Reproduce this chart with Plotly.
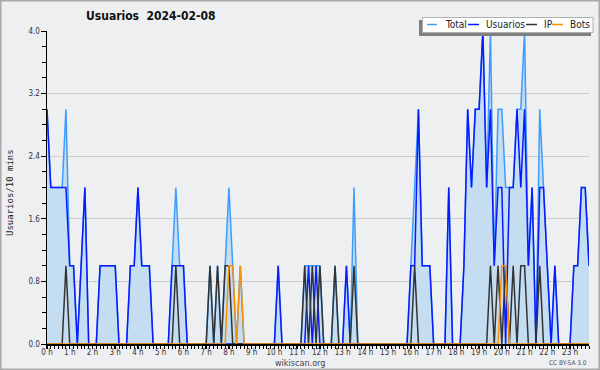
import plotly.graph_objects as go

# 10-minute slots, 0h00 .. 23h50
slot_hours = [i / 6 for i in range(144)]
hour_ticks = list(range(24))
hour_labels = [f"{h} h" for h in hour_ticks]

usuarios = [3, 2, 2, 2, 2, 2, 1, 1, 0, 1, 2, 0, 0, 0, 1, 1, 1, 1, 1, 0,
            0, 0, 1, 1, 2, 1, 1, 1, 0, 0, 0, 0, 0, 1, 1, 1, 1, 0, 0, 0,
            0, 0, 0, 0, 0, 0, 0, 0, 0, 0, 0, 0, 0, 0, 0, 0, 0, 0, 0, 0,
            0, 1, 0, 0, 0, 0, 0, 0, 0, 1, 0, 1, 0, 0, 0, 0, 0, 0, 0, 1,
            0, 0, 0, 0, 0, 0, 0, 0, 0, 0, 0, 0, 0, 0, 0, 0, 1, 1, 3, 1,
            1, 1, 0, 0, 0, 0, 2, 0, 0, 0, 1, 3, 2, 3, 3, 4, 2, 3, 1, 2,
            2, 0, 2, 2, 3, 2, 3, 1, 2, 0, 2, 2, 1, 0, 1, 0, 0, 0, 0, 1,
            1, 2, 2, 1]
ip = [0, 0, 0, 0, 0, 1, 0, 0, 0, 0, 0, 0, 0, 0, 0, 0, 0, 0, 0, 0,
      0, 0, 0, 0, 0, 0, 0, 0, 0, 0, 0, 0, 0, 0, 1, 0, 0, 0, 0, 0,
      0, 0, 0, 1, 0, 1, 0, 1, 1, 0, 0, 0, 0, 0, 0, 0, 0, 0, 0, 0,
      0, 0, 0, 0, 0, 0, 0, 0, 1, 0, 1, 0, 1, 0, 0, 0, 1, 0, 0, 0,
      0, 1, 0, 0, 0, 0, 0, 0, 0, 0, 0, 0, 0, 0, 0, 0, 0, 1, 0, 0,
      0, 0, 0, 0, 0, 0, 0, 0, 0, 0, 0, 0, 0, 0, 0, 0, 0, 1, 0, 1,
      0, 1, 0, 1, 0, 1, 1, 0, 0, 0, 1, 0, 0, 0, 0, 0, 0, 0, 0, 0,
      0, 0, 0, 0]
bots = [0] * 144
for _i in (48, 49, 51, 120, 121):
    bots[_i] = 1
total = [3, 2, 2, 2, 2, 3, 1, 1, 0, 1, 2, 0, 0, 0, 1, 1, 1, 1, 1, 0,
         0, 0, 1, 1, 2, 1, 1, 1, 0, 0, 0, 0, 0, 1, 2, 1, 1, 0, 0, 0,
         0, 0, 0, 1, 0, 1, 0, 1, 2, 1, 0, 1, 0, 0, 0, 0, 0, 0, 0, 0,
         0, 1, 0, 0, 0, 0, 0, 0, 1, 1, 1, 1, 1, 0, 0, 0, 1, 0, 0, 1,
         0, 2, 0, 0, 0, 0, 0, 0, 0, 0, 0, 0, 0, 0, 0, 0, 1, 2, 3, 1,
         1, 1, 0, 0, 0, 0, 2, 0, 0, 0, 1, 3, 2, 3, 3, 4, 2, 4, 1, 3,
         3, 2, 2, 2, 3, 3, 4, 1, 2, 0, 3, 2, 1, 0, 1, 0, 0, 0, 0, 1,
         1, 2, 2, 1]

BG = "#eeeff1"
FONT = "DejaVu Sans Condensed, DejaVu Sans"

fig = go.Figure()
fig.add_trace(go.Scatter(x=slot_hours, y=total, mode="lines", name="Total",
                         line=dict(color="#3d9dff", width=1.5),
                         fill="tozeroy", fillcolor="#c5ddf1"))
fig.add_trace(go.Scatter(x=slot_hours, y=usuarios, mode="lines", name="Usuarios",
                         line=dict(color="#0a1aff", width=1.5)))
fig.add_trace(go.Scatter(x=slot_hours, y=ip, mode="lines", name="IP",
                         line=dict(color="#333333", width=1.5)))
fig.add_trace(go.Scatter(x=slot_hours, y=bots, mode="lines", name="Bots",
                         line=dict(color="#ff9000", width=1.5)))

L, R, T, B = 47, 11, 31, 26
W, H = 600, 370
pw, ph = W - L - R, H - T - B


def px(xp):
    return (xp - L) / pw


def py(yp):
    return (H - B - yp) / ph


shapes = []
# outer frame
shapes.append(dict(type="rect", xref="paper", yref="paper",
                   x0=px(0.5), x1=px(599.5), y0=py(0.5), y1=py(369.5),
                   line=dict(color="#aaaaaa", width=2), layer="below"))
# legend shadow + box
shapes.append(dict(type="rect", xref="paper", yref="paper",
                   x0=px(419), x1=px(591), y0=py(36), y1=py(20),
                   fillcolor="#808080", line=dict(width=0), layer="above"))
shapes.append(dict(type="rect", xref="paper", yref="paper",
                   x0=px(422.5), x1=px(593), y0=py(32.5), y1=py(17.5),
                   fillcolor="white", line=dict(color="#b0b0b0", width=1), layer="above"))
leg = [("Total", "#3d9dff", 427, 437, 442.5),
       ("Usuarios", "#0a1aff", 468, 479, 483.5),
       ("IP", "#333333", 526, 537, 541.5),
       ("Bots", "#ff9000", 552, 563, 568)]
annotations = []
for name, col, a, b, tx in leg:
    shapes.append(dict(type="line", xref="paper", yref="paper",
                       x0=px(a), x1=px(b), y0=py(24.5), y1=py(24.5),
                       line=dict(color=col, width=1.5), layer="above"))
    annotations.append(dict(text=name, xref="paper", yref="paper",
                            x=px(tx), y=py(25), xanchor="left", yanchor="middle",
                            showarrow=False, font=dict(family=FONT, size=10, color="#222222")))

annotations.append(dict(text="<b>Usuarios  2024-02-08</b>", xref="paper", yref="paper",
                        x=px(151), y=py(16), xanchor="center", yanchor="middle",
                        showarrow=False, font=dict(family=FONT, size=12, color="#111111")))
annotations.append(dict(text="Usuarios/10 mins", xref="paper", yref="paper",
                        x=px(10), y=py(193), xanchor="center", yanchor="middle", textangle=-90,
                        showarrow=False, font=dict(family="DejaVu Sans Mono", size=9, color="#222222")))
annotations.append(dict(text="wikiscan.org", xref="paper", yref="paper",
                        x=px(300), y=py(362.5), xanchor="center", yanchor="middle",
                        showarrow=False, font=dict(family=FONT, size=9, color="#444444")))
annotations.append(dict(text="CC BY-SA 3.0", xref="paper", yref="paper",
                        x=px(589), y=py(362.5), xanchor="right", yanchor="middle",
                        showarrow=False, font=dict(family=FONT, size=6.5, color="#555555")))

fig.update_layout(
    width=W, height=H, margin=dict(l=L, r=R, t=T, b=B, autoexpand=False),
    paper_bgcolor=BG, plot_bgcolor=BG, showlegend=False,
    shapes=shapes, annotations=annotations,
    xaxis=dict(range=[0, 143 / 6], tickmode="array", tickvals=hour_ticks, ticktext=hour_labels,
               automargin=False, ticklabelstandoff=-3,
               ticks="outside", ticklen=3, tickwidth=1.5, tickcolor="black",
               showline=True, linecolor="black", linewidth=1.5, showgrid=False, zeroline=False,
               tickfont=dict(family=FONT, size=8, color="#333333"),
               minor=dict(dtick=1 / 6, tick0=0, ticks="outside", ticklen=3, tickwidth=1, tickcolor="black")),
    yaxis=dict(range=[0, 4], dtick=0.8, tick0=0, tickformat=".1f",
               automargin=False, ticklabelstandoff=-1,
               ticks="outside", ticklen=5, tickwidth=1, tickcolor="black",
               showline=True, linecolor="black", linewidth=1.5, zeroline=False,
               showgrid=True, gridcolor="#cccccc", gridwidth=1,
               tickfont=dict(family=FONT, size=8, color="#333333"),
               minor=dict(dtick=0.2, tick0=0, ticks="outside", ticklen=4, tickwidth=1, tickcolor="black",
                          showgrid=False)),
)
fig.write_html("out.html", config={"displayModeBar": False, "staticPlot": True},
               post_script="document.body.style.margin='0';document.body.style.overflow='hidden';")
